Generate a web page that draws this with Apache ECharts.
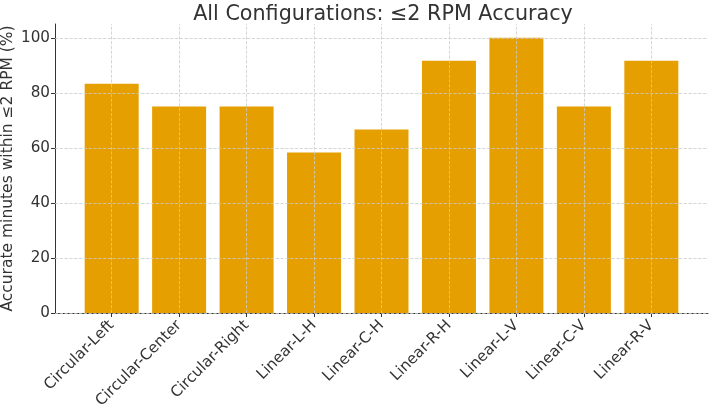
<!DOCTYPE html>
<html>
<head>
<meta charset="utf-8">
<script src="https://cdn.jsdelivr.net/npm/echarts@6/dist/echarts.min.js"></script>
<style>
  * { margin: 0; padding: 0; }
  #chart { width: 709px; height: 408px; }
</style>
</head>
<body>
<div id="chart"></div>
<script>
// data
var configs = ['Circular-Left', 'Circular-Center', 'Circular-Right', 'Linear-L-H', 'Linear-C-H',
               'Linear-R-H', 'Linear-L-V', 'Linear-C-V', 'Linear-R-V'];
var accuracy = [83.33, 75, 75, 58.33, 66.67, 91.67, 100, 75, 91.67];
var yTicks = [0, 20, 40, 60, 80, 100];

var positions = configs.map(function (c, i) { return i; });
var barData = configs.map(function (c, i) { return [i, accuracy[i]]; });

// grid lines drawn as dashed marklines on top of bars
var gridLines = positions.map(function (i) { return { xAxis: i }; })
    .concat(yTicks.map(function (v) { return { yAxis: v }; }));

var font = 'DejaVu Sans';
var option = {
    animation: false,
    backgroundColor: '#fff',
    title: {
        text: 'All Configurations: \u22642 RPM Accuracy',
        left: 378, top: -1, textAlign: 'center',
        textStyle: { fontFamily: font, fontSize: 20.7, fontWeight: 'normal', color: '#333' }
    },
    grid: { left: 55, right: 1, top: 24, bottom: 95, containLabel: false, outerBoundsMode: 'none' },
    xAxis: {
        type: 'value',
        min: -0.84, max: 8.84,
        axisLine: { show: true, onZero: false, lineStyle: { color: '#333', width: 1 } },
        axisTick: { show: true, customValues: positions, length: 4, lineStyle: { color: '#333' } },
        axisLabel: {
            customValues: positions,
            rotate: 45,
            margin: 10,
            fontFamily: font, fontSize: 15.2, color: '#333',
            formatter: function (v) { return configs[v]; }
        },
        splitLine: { show: false }
    },
    yAxis: {
        type: 'value',
        min: 0, max: 105,
        name: 'Accurate minutes within \u22642 RPM (%)',
        nameLocation: 'middle',
        nameGap: 39,
        nameMoveOverlap: false,
        nameTextStyle: { fontFamily: font, fontSize: 15.5, color: '#333' },
        axisLine: { show: true, onZero: false, lineStyle: { color: '#333', width: 1 } },
        axisTick: { show: true, customValues: yTicks, length: 4, lineStyle: { color: '#333' } },
        axisLabel: { customValues: yTicks, margin: 5, fontFamily: font, fontSize: 15.2, color: '#333' },
        splitLine: { show: false }
    },
    series: [{
        type: 'bar',
        data: barData,
        barWidth: 54,
        itemStyle: { color: '#E69F00' },
        markLine: {
            silent: true,
            symbol: 'none',
            label: { show: false },
            lineStyle: { type: 'dashed', color: '#cccccc', width: 0.8 },
            data: gridLines
        }
    }]
};

var myChart = echarts.init(document.getElementById('chart'));
myChart.setOption(option);
</script>
</body>
</html>
